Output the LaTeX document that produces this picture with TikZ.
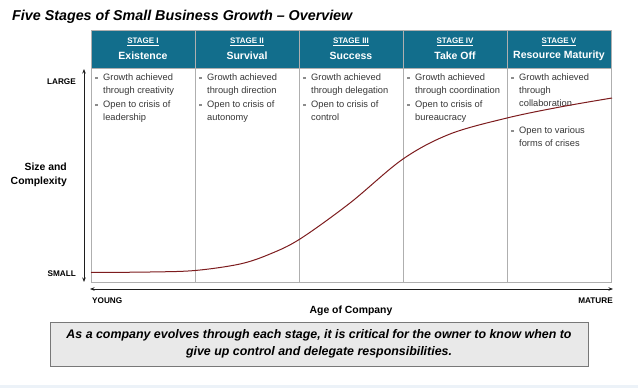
\documentclass[tikz,border=0pt]{standalone}
\usepackage{fontspec}
\setmainfont{Liberation Sans}
\usetikzlibrary{arrows.meta}
\definecolor{hdr}{RGB}{18,110,140}
\definecolor{gridc}{RGB}{175,175,175}
\definecolor{curvec}{RGB}{125,28,30}
\definecolor{bodyc}{RGB}{55,55,55}
\definecolor{bulc}{RGB}{140,140,140}
\definecolor{boxfill}{RGB}{233,233,233}
\definecolor{boxdraw}{RGB}{120,120,120}
\definecolor{axisc}{RGB}{30,30,30}
\definecolor{bandc}{RGB}{236,242,248}
\newcommand\blt{\makebox[8pt][l]{\textcolor{bulc}{\rule[1.8pt]{2.6pt}{2.6pt}}}}
\newcommand\ind{\makebox[8pt][l]{}}
\tikzset{
  hdrcell/.style={draw=gridc, line width=0.6pt, fill=hdr, minimum width=104pt, minimum height=38pt, anchor=north west, inner sep=0pt},
  bodycell/.style={draw=gridc, line width=0.8pt, minimum width=104pt, minimum height=214pt, anchor=north west, inner sep=0pt},
  stagelbl/.style={text=white, font=\bfseries\fontsize{8}{9}\selectfont, inner sep=0pt},
  stagename/.style={text=white, font=\bfseries\fontsize{10.5}{12}\selectfont, inner sep=0pt},
  bodytxt/.style={text=bodyc, font=\fontsize{9.3}{12.8}\selectfont, align=left, anchor=north west, inner sep=0pt},
  axislbl/.style={font=\bfseries\fontsize{8.2}{9}\selectfont, inner sep=0pt},
  axistitle/.style={font=\bfseries\fontsize{10.4}{13.5}\selectfont, inner sep=0pt},
  axisline/.style={draw=axisc, line width=0.9pt, {Stealth[length=4.5pt,width=3.5pt]}-{Stealth[length=4.5pt,width=3.5pt]}},
}
\begin{document}
\begin{tikzpicture}[x=1pt,y=-1pt]
\useasboundingbox (0,0) rectangle (638,388);
\fill[white] (0,0) rectangle (638,388);
\fill[bandc] (0,385) rectangle (638,388);

\node[anchor=base west, font=\bfseries\itshape\fontsize{14.3}{16}\selectfont, inner sep=0pt] (title) at (12,20) {Five Stages of Small Business Growth – Overview};

% header cells
\node[hdrcell] (h1) at (91,30) {};
\node[hdrcell] (h2) at (195,30) {};
\node[hdrcell] (h3) at (299,30) {};
\node[hdrcell] (h4) at (403,30) {};
\node[hdrcell] (h5) at (507,30) {};
\node[stagelbl] (s1) at (143,42) {\underline{STAGE I}};
\node[stagelbl] (s2) at (247,42) {\underline{STAGE II}};
\node[stagelbl] (s3) at (351,42) {\underline{STAGE III}};
\node[stagelbl] (s4) at (455,42) {\underline{STAGE IV}};
\node[stagelbl] (s5) at (559,42) {\underline{STAGE V}};
\node[stagename] (n1) at (143,56) {Existence};
\node[stagename] (n2) at (247,56) {Survival};
\node[stagename] (n3) at (351,56) {Success};
\node[stagename] (n4) at (455,56) {Take Off};
\node[stagename] (n5) at (559,56) {Resource Maturity};

% body cells
\node[bodycell] (b1) at (91,68) {};
\node[bodycell] (b2) at (195,68) {};
\node[bodycell] (b3) at (299,68) {};
\node[bodycell] (b4) at (403,68) {};
\node[bodycell] (b5) at (507,68) {};

% body texts
\node[bodytxt] (t1a) at (95,74) {\blt Growth achieved\\\ind through creativity};
\node[bodytxt] (t1b) at (95,101) {\blt Open to crisis of\\\ind leadership};
\node[bodytxt] (t2a) at (199,74) {\blt Growth achieved\\\ind through direction};
\node[bodytxt] (t2b) at (199,101) {\blt Open to crisis of\\\ind autonomy};
\node[bodytxt] (t3a) at (303,74) {\blt Growth achieved\\\ind through delegation};
\node[bodytxt] (t3b) at (303,101) {\blt Open to crisis of\\\ind control};
\node[bodytxt] (t4a) at (407,74) {\blt Growth achieved\\\ind through coordination};
\node[bodytxt] (t4b) at (407,101) {\blt Open to crisis of\\\ind bureaucracy};
\node[bodytxt] (t5a) at (511,74) {\blt Growth achieved\\\ind through\\\ind collaboration};
\node[bodytxt] (t5b) at (511,127) {\blt Open to various\\\ind forms of crises};

% curve
\draw[curvec, line width=1pt] plot[smooth, tension=0.55] coordinates {(91,272.5) (150,272) (195,270.5) (240,264) (270,254) (300,239) (350,203) (403,159) (450,134) (507,118) (560,107) (612,98)};

% axes
\coordinate (ytop) at (84,69);
\coordinate (ybot) at (84,282);
\draw[axisline] (ytop) -- (ybot);
\coordinate (xl) at (90,289);
\coordinate (xr) at (613,289);
\draw[axisline] (xl) -- (xr);

\node[axislbl, anchor=east] (large) at (76,82) {LARGE};
\node[axislbl, anchor=east] (small) at (76,274) {SMALL};
\node[axistitle, anchor=east, align=right] (size) at (67,175) {Size and\\Complexity};
\node[axislbl, anchor=west] (young) at (92,301) {YOUNG};
\node[axislbl, anchor=east] (mature) at (613,301) {MATURE};
\node[axistitle] (age) at (351,311) {Age of Company};

% bottom box
\node[draw=boxdraw, line width=0.9pt, fill=boxfill, minimum width=538pt, minimum height=44pt, inner sep=0pt, align=center, font=\bfseries\itshape\fontsize{12.4}{17}\selectfont] (msg) at (319,344) {As a company evolves through each stage, it is critical for the owner to know when to\\give up control and delegate responsibilities.};
\end{tikzpicture}
\end{document}
